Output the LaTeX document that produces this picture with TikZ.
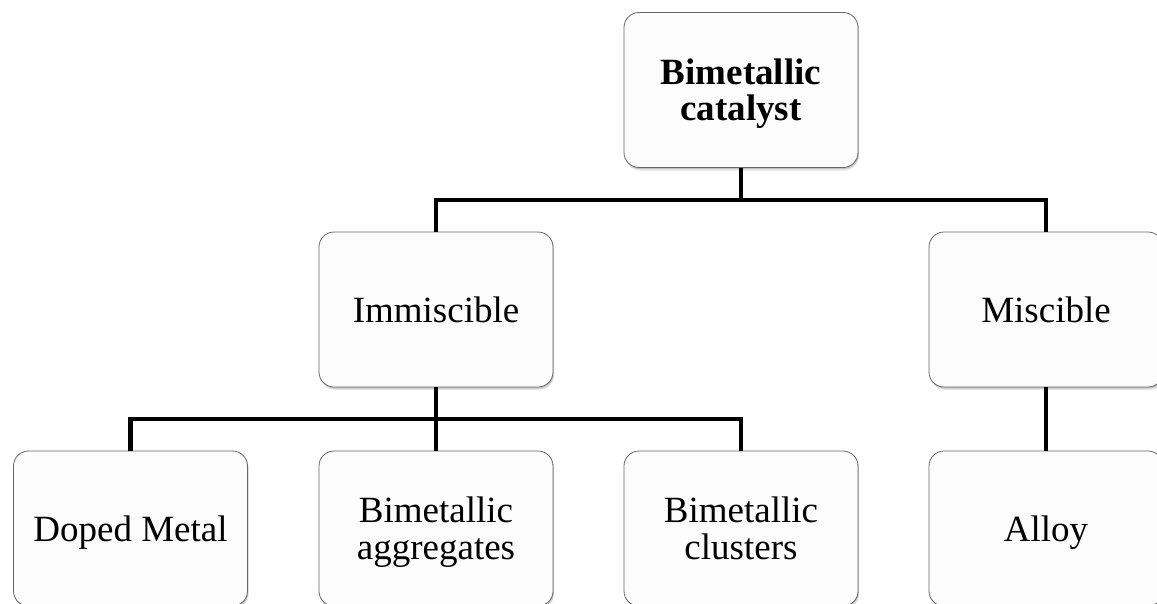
\documentclass[tikz,border=0pt]{standalone}
\usepackage{fontspec}
\setmainfont{Liberation Serif}
\usetikzlibrary{shadows}
\newcommand\lastline[1]{\raisebox{0pt}[\height][0pt]{#1}}
\begin{document}
\begin{tikzpicture}[x=1pt,y=-1pt,
  box/.style={draw=black!60, line width=0.8pt, fill=white!99!black,
    rounded corners=15pt, minimum width=234pt, minimum height=155pt,
    align=center, inner sep=0pt, font=\fontsize{37}{37}\selectfont,
    general shadow={fill=black, opacity=.10, shadow xshift=1.2pt, shadow yshift=-3pt},
    general shadow={fill=black, opacity=.15, shadow xshift=0.8pt, shadow yshift=-1.5pt}},
  link/.style={line width=4.8pt, line join=miter, draw=black}]
\useasboundingbox (0,0) rectangle (1157,603);
\clip (0,0) rectangle (1157,603);
\fill[white] (0,0) rectangle (1157,603);

\node[box, font=\bfseries\fontsize{37}{36}\selectfont] (top) at (741,90) {Bimetallic\\\lastline{catalyst}};
\node[box] (imm) at (436,309.5) {\lastline{Immiscible}};
\node[box] (mis) at (1046,309.5) {\lastline{Miscible}};
\node[box] (dop) at (130.5,528.5) {\lastline{Doped Metal}};
\node[box] (agg) at (436,528.5) {Bimetallic\\\lastline{aggregates}};
\node[box] (clu) at (741,528.5) {Bimetallic\\\lastline{clusters}};
\node[box] (all) at (1046,528.5) {\lastline{Alloy}};

\coordinate (j1) at (741,200);
\coordinate (j2) at (436,419);

\draw[link] (top.south) -- (j1);
\draw[link] (imm.north) |- (j1) -| (mis.north);
\draw[link] (imm.south) -- (agg.north);
\draw[link] (dop.north) |- (j2) -| (clu.north);
\draw[link] (mis.south) -- (all.north);
\end{tikzpicture}
\end{document}
